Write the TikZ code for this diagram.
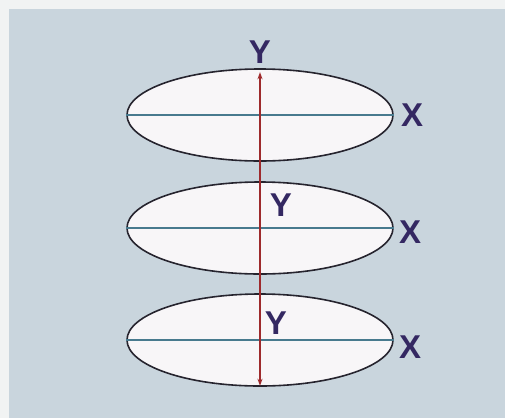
\documentclass[tikz,border=0pt]{standalone}
\usepackage{fontspec}
\setmainfont{Liberation Sans}
\usetikzlibrary{arrows.meta, positioning, shapes.geometric}

\definecolor{panelbg}{RGB}{201,213,221}
\definecolor{paper}{RGB}{241,243,243}
\definecolor{disc}{RGB}{248,246,248}
\definecolor{rim}{RGB}{38,36,46}
\definecolor{xaxis}{RGB}{72,122,142}
\definecolor{yaxis}{RGB}{158,42,44}
\definecolor{letter}{RGB}{52,40,98}

\tikzset{
  disk/.style={ellipse, draw=rim, line width=1.6pt, fill=disc,
    minimum width=266pt, minimum height=92pt, inner sep=0pt},
  axislabel/.style={font=\fontsize{33}{33}\selectfont\bfseries, text=letter, inner sep=0pt},
  xline/.style={draw=xaxis, line width=1.5pt},
  yline/.style={draw=yaxis, line width=1.3pt, {Stealth[length=7pt,width=5pt]}-{Stealth[length=7pt,width=5pt]}}
}

\begin{document}
\begin{tikzpicture}[x=1pt, y=-1pt]
  % Background
  \fill[paper] (0,0) rectangle (505,418);
  \fill[panelbg] (9,9) rectangle (505,418);
  \useasboundingbox (0,0) rectangle (505,418);

  % Disks
  \node[disk] (top) at (260,115) {};
  \node[disk] (mid) at (260,228) {};
  \node[disk] (bot) at (260,340) {};

  % Horizontal axes
  \draw[xline] (top.west) -- (top.east);
  \draw[xline] (mid.west) -- (mid.east);
  \draw[xline] (bot.west) -- (bot.east);

  % Vertical axis
  \draw[yline, shorten <=4pt, shorten >=1pt] (top.north) -- (bot.south);

  % Labels
  \node[axislabel] (ytop) at (260,52) {Y};
  \node[axislabel] (ymid) at (281,205) {Y};
  \node[axislabel] (ybot) at (276,323) {Y};
  \node[axislabel] (xtop) at (412,115) {X};
  \node[axislabel] (xmid) at (410,232) {X};
  \node[axislabel] (xbot) at (410,347) {X};
\end{tikzpicture}
\end{document}
